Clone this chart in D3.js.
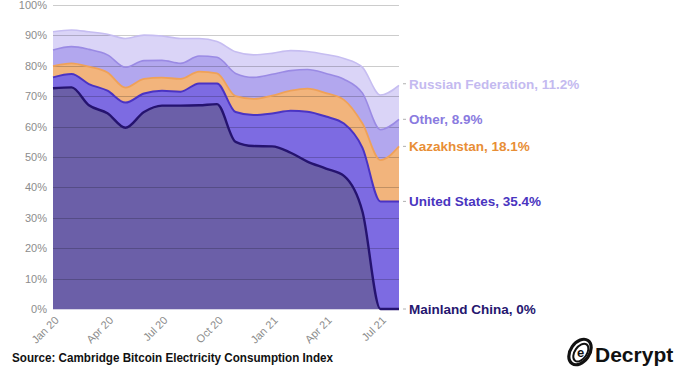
<!DOCTYPE html>
<html>
<head>
<meta charset="utf-8">
<script src="https://cdn.jsdelivr.net/npm/d3@7"></script>
<style>
  html, body { margin: 0; padding: 0; background: #fff; }
  svg { display: block; font-family: "Liberation Sans", Arial, Helvetica, sans-serif; }
</style>
</head>
<body>
<svg id="chart" width="690" height="380"></svg>
<script>
// ---- data (share of global Bitcoin hashrate, %) ----
const months = ["2020-01","2020-02","2020-03","2020-04","2020-05","2020-06","2020-07","2020-08","2020-09","2020-10","2020-11","2020-12","2021-01","2021-02","2021-03","2021-04","2021-05","2021-06","2021-07","2021-08"];
const china         = [72.6,72.9,67.0,64.4,59.6,64.8,66.9,66.9,67.0,67.4,55.0,53.6,53.5,51.4,48.5,46.2,43.8,32.0,0,0];
const unitedStates  = [3.6,4.4,7.0,7.4,8.3,6.1,4.9,4.6,7.2,6.8,9.8,10.2,10.8,13.8,16.4,17.1,17.2,21.0,35.4,35.4];
const kazakhstan    = [3.7,3.5,5.7,6.0,4.9,4.8,4.3,4.2,3.9,3.3,5.2,5.3,5.9,6.6,7.6,7.7,7.8,8.0,13.6,18.1];
const other         = [5.3,5.5,5.7,5.8,6.7,6.0,5.7,5.1,5.1,5.3,7.5,7.1,7.0,6.6,6.3,6.5,6.8,10.0,10.0,8.9];
const russia        = [6.0,5.5,5.8,6.8,9.5,8.4,8.0,8.2,5.8,5.2,7.1,7.4,6.9,6.6,5.9,6.2,6.8,8.5,11.4,11.2];
const seriesNames   = ["Mainland China","United States","Kazakhstan","Other","Russian Federation"];
const yTicks        = [0,10,20,30,40,50,60,70,80,90,100];
const xTickLabels   = ["Jan 20","Apr 20","Jul 20","Oct 20","Jan 21","Apr 21","Jul 21"];
const xTickMonths   = ["2020-01","2020-04","2020-07","2020-10","2021-01","2021-04","2021-07"];
const sourceText    = "Source: Cambridge Bitcoin Electricity Consumption Index";

// ---- styles ----
const fills  = ["#6b5fa8","#7d6be2","#f2b47c","#b2a7ee","#dad4f7"];
const lines  = ["#25136f","#4a33c4","#efa158","#9a8ae4","#c6bdf1"];
const lineW  = [2.4,2,1.8,1.6,1.6];
const labelColors = ["#26166f","#4a35c0","#e88e36","#8a7be0","#c4baf0"];

const parse = d3.timeParse("%Y-%m");
const keys = ["china","us","kz","other","ru"];
const table = months.map((m,i) => ({
  date: parse(m), china: china[i], us: unitedStates[i], kz: kazakhstan[i], other: other[i], ru: russia[i]
}));

const svg = d3.select("#chart");
const L = 53, R = 399, T = 5, B = 309;

const x = d3.scaleTime().domain([parse("2020-01"), parse("2021-08")]).range([L, R]);
const y = d3.scaleLinear().domain([0, 100]).range([B, T]);

const stacked = d3.stack().keys(keys)(table);

const area = d3.area()
  .curve(d3.curveMonotoneX)
  .x(d => x(d.data.date))
  .y0(d => y(d[0]))
  .y1(d => y(d[1]));
const topLine = d3.line()
  .curve(d3.curveMonotoneX)
  .x(d => x(d.data.date))
  .y(d => y(d[1]));

// baseline
svg.append("line").attr("x1", L).attr("x2", R).attr("y1", B + 0.5).attr("y2", B + 0.5)
  .attr("stroke", "#d6d3e6").attr("stroke-width", 1);

// areas
svg.append("g").selectAll("path").data(stacked).join("path")
  .attr("d", area).attr("fill", (d,i) => fills[i]);

// gridlines (on top, translucent)
svg.append("g").selectAll("line").data(yTicks.filter(v => v > 0)).join("line")
  .attr("x1", L).attr("x2", R)
  .attr("y1", d => Math.round(y(d)) + 0.5).attr("y2", d => Math.round(y(d)) + 0.5)
  .attr("stroke", "rgba(0,0,0,0.2)").attr("stroke-width", 1);

// top lines (draw upper layers first so lower lines sit on top)
const lineG = svg.append("g").attr("fill", "none");
for (let i = stacked.length - 1; i >= 0; i--) {
  lineG.append("path").attr("d", topLine(stacked[i]))
    .attr("stroke", lines[i]).attr("stroke-width", lineW[i]).attr("stroke-linejoin", "round");
}

// y axis labels
const yAxis = d3.axisLeft(y).tickValues(yTicks).tickFormat(d => d + "%").tickSize(0).tickPadding(6);
const ya = svg.append("g").attr("transform", `translate(${L},0)`).call(yAxis);
ya.select(".domain").remove();
ya.selectAll("text").attr("fill", "#8c8c8c").attr("font-size", 11)
  .attr("font-family", "'Liberation Sans', Arial, sans-serif");

// x axis labels (rotated)
const xAxis = d3.axisBottom(x).tickValues(xTickMonths.map(parse))
  .tickFormat((d,i) => xTickLabels[i]).tickSize(0).tickPadding(0);
const xa = svg.append("g").attr("transform", `translate(0,${B})`).call(xAxis);
xa.select(".domain").remove();
xa.selectAll("text")
  .attr("fill", "#8c8c8c").attr("font-size", 11)
  .attr("font-family", "'Liberation Sans', Arial, sans-serif")
  .attr("text-anchor", "end")
  .attr("dy", null).attr("y", null)
  .attr("transform", "translate(6,12) rotate(-45)");

// end labels
const last = table[table.length - 1];
let cum = 0;
const endInfo = keys.map((k,i) => {
  const mid = cum + last[k];
  cum = mid;
  return { name: seriesNames[i], value: last[k], top: mid, color: labelColors[i] };
});
const labG = svg.append("g");
endInfo.forEach((e,i) => {
  const yy = y(e.top) + (i === 4 ? -1.5 : 0);
  labG.append("line").attr("x1", R + 4).attr("x2", R + 7).attr("y1", yy).attr("y2", yy)
    .attr("stroke", "#b0b0b0").attr("stroke-width", 1);
  labG.append("text").attr("x", R + 10).attr("y", yy).attr("dy", "0.36em")
    .attr("fill", e.color).attr("font-size", 13.5).attr("font-weight", "bold")
    .text(`${e.name}, ${e.value}%`);
});

// source
svg.append("text").attr("x", 12).attr("y", 362)
  .attr("font-size", 12).attr("font-weight", "bold").attr("fill", "#111")
  .attr("textLength", 321).attr("lengthAdjust", "spacingAndGlyphs")
  .text(sourceText);

// Decrypt logo
const logo = svg.append("g").attr("transform", "translate(580,352)");
logo.append("ellipse").attr("rx", 9.5).attr("ry", 14).attr("transform", "rotate(35)")
  .attr("fill", "none").attr("stroke", "#111").attr("stroke-width", 3.2);
logo.append("ellipse").attr("rx", 6).attr("ry", 10).attr("cx", 1).attr("transform", "rotate(35)")
  .attr("fill", "none").attr("stroke", "#111").attr("stroke-width", 2);
logo.append("text").attr("x", 0.5).attr("y", 4.5).attr("text-anchor", "middle")
  .attr("font-size", 13).attr("font-weight", "bold").attr("fill", "#111").text("e");
svg.append("text").attr("x", 595).attr("y", 362)
  .attr("font-size", 21).attr("font-weight", "bold").attr("fill", "#111").text("Decrypt");
</script>
</body>
</html>
